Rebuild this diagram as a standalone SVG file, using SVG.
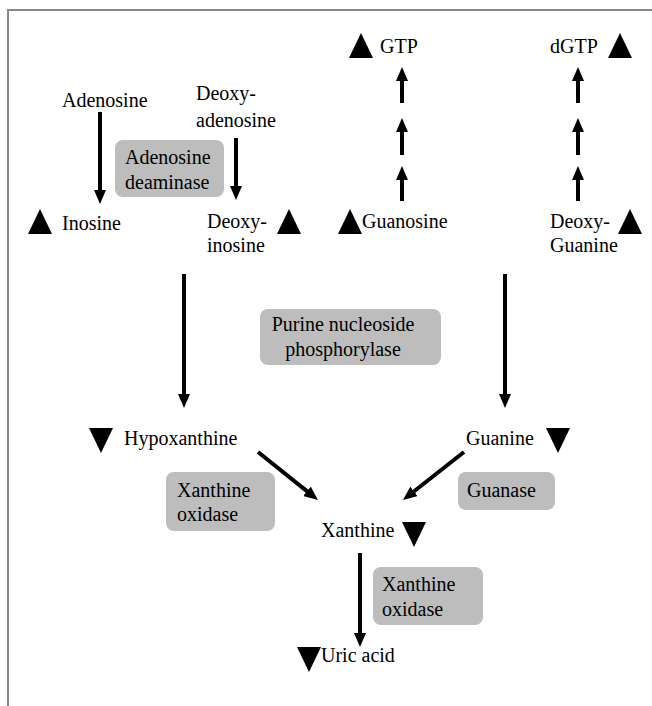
<svg xmlns="http://www.w3.org/2000/svg" width="652" height="706" viewBox="0 0 652 706">
<style>
text{font-size:20px;fill:#000}
.box{fill:#bdbdbd;stroke:none}
.tri{fill:#000}
.arr{stroke:#000;stroke-width:4;fill:none;marker-end:url(#ah)}
.frame{stroke:#888;stroke-width:2;fill:none}
</style>
<defs>
<marker id="ah" viewBox="0 0 14 12" markerWidth="14" markerHeight="12" refX="1" refY="6" orient="auto" markerUnits="userSpaceOnUse">
<path d="M0,0 L14,6 L0,12 Z" fill="#000"/>
</marker>
<path id="up" d="M0,-13 L12,12 L-12,12 Z"/>
<path id="down" d="M0,13 L12,-12 L-12,-12 Z"/>
</defs>
<rect width="652" height="706" fill="#fff"/>
<path class="frame" d="M8,706 L8,10 L652,10"/>

<g id="connectors">
<line class="arr" x1="100" y1="112" x2="100" y2="191"/>
<line class="arr" x1="236" y1="138" x2="236" y2="187"/>
<line class="arr" x1="402" y1="201" x2="402" y2="179"/>
<line class="arr" x1="402" y1="155" x2="402" y2="131"/>
<line class="arr" x1="402" y1="103" x2="402" y2="80"/>
<line class="arr" x1="578" y1="201" x2="578" y2="179"/>
<line class="arr" x1="578" y1="155" x2="578" y2="131"/>
<line class="arr" x1="578" y1="103" x2="578" y2="80"/>
<line class="arr" x1="184" y1="274" x2="184" y2="395"/>
<line class="arr" x1="505" y1="274" x2="505" y2="395"/>
<line class="arr" x1="258" y1="452" x2="307.8" y2="491.9"/>
<line class="arr" x1="464" y1="452" x2="413.2" y2="492"/>
<line class="arr" x1="360" y1="553" x2="360" y2="634"/>
</g>

<g font-family="Liberation Serif, Times New Roman, serif">
<g id="adenosine-deaminase"><rect class="box" x="115" y="140" width="109" height="57" rx="8"/><text x="125" y="164">Adenosine</text><text x="125" y="189">deaminase</text></g>
<g id="pnp"><rect class="box" x="260" y="309" width="181" height="56" rx="8"/><text x="343" y="331" text-anchor="middle">Purine nucleoside</text><text x="343" y="356" text-anchor="middle">phosphorylase</text></g>
<g id="xo1"><rect class="box" x="166" y="472" width="109" height="59" rx="8"/><text x="177" y="497">Xanthine</text><text x="177" y="521">oxidase</text></g>
<g id="guanase"><rect class="box" x="458" y="472" width="97" height="38" rx="8"/><text x="467" y="497">Guanase</text></g>
<g id="xo2"><rect class="box" x="373" y="567" width="110" height="58" rx="8"/><text x="382" y="591">Xanthine</text><text x="382" y="616">oxidase</text></g>

<g id="gtp"><use href="#up" class="tri" x="361" y="46"/><text x="380" y="53">GTP</text></g>
<g id="dgtp"><text x="550" y="53">dGTP</text><use href="#up" class="tri" x="620" y="46"/></g>
<g id="adenosine"><text x="62" y="107">Adenosine</text></g>
<g id="deoxyadenosine"><text x="196" y="100">Deoxy-</text><text x="196" y="127">adenosine</text></g>
<g id="inosine"><use href="#up" class="tri" x="40" y="222"/><text x="62" y="230">Inosine</text></g>
<g id="deoxyinosine"><text x="207" y="228">Deoxy-</text><text x="207" y="252">inosine</text><use href="#up" class="tri" x="289" y="222"/></g>
<g id="guanosine"><use href="#up" class="tri" x="350" y="222"/><text x="362" y="228">Guanosine</text></g>
<g id="deoxyguanine"><text x="550" y="228">Deoxy-</text><text x="550" y="252">Guanine</text><use href="#up" class="tri" x="630" y="222"/></g>
<g id="hypoxanthine"><use href="#down" class="tri" x="101" y="440"/><text x="124" y="445">Hypoxanthine</text></g>
<g id="guanine"><text x="466" y="445">Guanine</text><use href="#down" class="tri" x="558" y="440"/></g>
<g id="xanthine"><text x="321" y="537">Xanthine</text><use href="#down" class="tri" x="414" y="534"/></g>
<g id="uric-acid"><use href="#down" class="tri" x="309" y="659"/><text x="321" y="662">Uric acid</text></g>
</g>
</svg>
